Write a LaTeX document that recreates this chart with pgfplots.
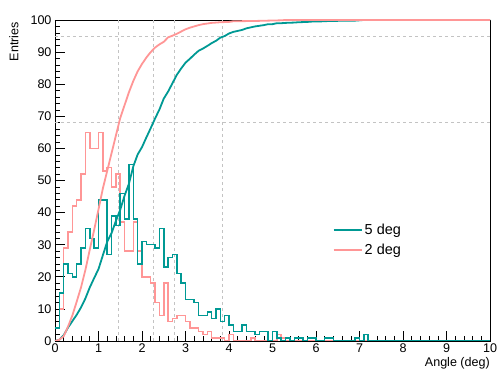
\documentclass[border=0pt]{standalone}
\usepackage{pgfplots}
\pgfplotsset{compat=1.18}
\usepackage{fontspec}
\setmainfont{Liberation Sans}
\definecolor{tealc}{RGB}{0,153,148}
\definecolor{pinkc}{RGB}{255,150,150}
\definecolor{gridc}{RGB}{195,195,195}

\pgfplotstableread{
x y
0.0 4
0.1 15
0.2 24
0.3 21
0.4 20
0.5 24
0.6 29
0.7 35
0.8 32
0.9 29
1.0 44
1.1 44
1.2 27
1.3 39
1.4 36
1.5 46
1.6 38
1.7 55
1.8 38
1.9 24
2.0 31
2.1 30
2.2 30
2.3 29
2.4 35
2.5 23
2.6 26
2.7 27
2.8 21
2.9 18
3.0 13
3.1 13
3.2 12
3.3 8
3.4 8
3.5 9
3.6 7
3.7 10
3.8 6
3.9 8
4.0 5
4.1 3
4.2 3
4.3 5
4.4 3
4.5 3
4.6 2
4.7 3
4.8 3
4.9 0
5.0 3
5.1 1
5.2 0
5.3 1
5.4 0
5.5 1
5.6 1
5.7 0
5.8 1
5.9 1
6.0 0
6.1 0
6.2 1
6.3 1
6.4 0
6.9 1
7.0 0
7.1 2
7.2 0
10.0 0
}\histfive

\pgfplotstableread{
x y
0.0 4
0.1 10
0.2 29
0.3 34
0.4 42
0.5 44
0.6 52
0.7 65
0.8 60
0.9 60
1.0 65
1.1 53
1.2 54
1.3 48
1.4 52
1.5 37
1.6 28
1.7 28
1.8 37
1.9 28
2.0 20
2.1 20
2.2 18
2.3 12
2.4 8
2.5 18
2.6 6
2.7 7
2.8 8
2.9 8
3.0 6
3.1 4
3.2 4
3.3 3
3.4 2
3.5 3
3.6 1
3.7 1
3.8 1
3.9 0
4.0 2
4.1 0
4.5 1
4.6 0
5.1 2
5.2 1
5.3 0
10.0 0
}\histtwo

\pgfplotstableread{
x y
0.0 0
0.1 0.4
0.2 1.8
0.3 4.2
0.4 6.2
0.5 8.2
0.6 10.5
0.7 13.3
0.8 16.7
0.9 19.6
1.0 22.4
1.1 26.7
1.2 30.9
1.3 33.6
1.4 37.4
1.5 40.9
1.6 45.3
1.7 49.0
1.8 54.4
1.9 58.1
2.0 60.4
2.1 63.4
2.2 66.3
2.3 69.3
2.4 72.1
2.5 75.5
2.6 77.7
2.7 80.3
2.8 82.9
2.9 84.9
3.0 86.7
3.1 87.9
3.2 89.2
3.3 90.4
3.4 91.1
3.5 91.9
3.6 92.8
3.7 93.5
3.8 94.5
3.9 95.0
4.0 95.8
4.1 96.3
4.2 96.6
4.3 96.9
4.4 97.4
4.5 97.7
4.6 98.0
4.7 98.2
4.8 98.4
4.9 98.7
5.0 98.7
5.1 99.0
5.2 99.0
5.3 99.1
5.5 99.2
5.6 99.3
5.8 99.4
5.9 99.5
6.2 99.6
6.3 99.7
6.9 99.8
7.1 100
10.0 100
}\cumfive

\pgfplotstableread{
x y
0.0 0
0.1 0.4
0.2 1.5
0.3 4.5
0.4 8.0
0.5 12.3
0.6 16.8
0.7 22.2
0.8 28.5
0.9 34.6
1.0 41.0
1.1 47.5
1.2 53.0
1.3 58.5
1.4 64.0
1.5 69.5
1.6 73.5
1.7 77.5
1.8 81.0
1.9 84.0
2.0 86.3
2.1 88.3
2.2 90.0
2.3 91.4
2.4 92.4
2.5 93.2
2.6 94.6
2.7 95.1
2.8 95.7
2.9 96.4
3.0 97.1
3.1 97.6
3.2 98.0
3.3 98.4
3.4 98.7
3.5 98.9
3.6 99.1
3.8 99.3
4.0 99.4
4.1 99.6
4.6 99.7
5.2 99.9
5.3 100
10.0 100
}\cumtwo

\begin{document}
\begin{tikzpicture}
\begin{axis}[name=ax, at={(0,0)}, anchor=south west,
  scale only axis, width=435bp, height=321bp,
  xmin=0, xmax=10, ymin=0, ymax=100,
  xtick={0,1,...,10}, ytick={0,10,...,100},
  minor x tick num=4, minor y tick num=4,
  tick align=inside, xtick pos=bottom, ytick pos=left,
  major tick length=10bp, minor tick length=5bp,
  tick style={black, line width=0.6bp},
  axis line style={line width=0.8bp},
  /pgf/number format/assume math mode=true,
  ticklabel style={font=\fontsize{12.6}{14}\selectfont},
  xticklabel style={yshift=1bp},
  yticklabel style={xshift=0bp},
  legend style={at={(axis cs:6.38,37)}, anchor=north west, draw=none, fill=none,
    font=\fontsize{14.5}{16}\selectfont, row sep=4bp, inner sep=0pt},
  legend cell align=left,
  legend image code/.code={\draw[#1, line width=2bp] (0bp,0bp) -- (28bp,0bp);},
]
\draw[gridc, dash pattern=on 3bp off 3bp, line width=0.7bp] (axis cs:0,68) -- (axis cs:10,68);
\draw[gridc, dash pattern=on 3bp off 3bp, line width=0.7bp] (axis cs:0,95) -- (axis cs:10,95);
\draw[gridc, dash pattern=on 3bp off 3bp, line width=0.7bp] (axis cs:1.45,0) -- (axis cs:1.45,100);
\draw[gridc, dash pattern=on 3bp off 3bp, line width=0.7bp] (axis cs:2.25,0) -- (axis cs:2.25,100);
\draw[gridc, dash pattern=on 3bp off 3bp, line width=0.7bp] (axis cs:2.75,0) -- (axis cs:2.75,100);
\draw[gridc, dash pattern=on 3bp off 3bp, line width=0.7bp] (axis cs:3.85,0) -- (axis cs:3.85,100);

\addplot[forget plot, const plot mark left, pinkc, line width=1.5bp] table {\histtwo};
\addplot[forget plot, const plot mark left, tealc, line width=1.5bp] table {\histfive};

\addplot[tealc, line width=1.8bp, line join=round] table {\cumfive};
\addlegendentry{5 deg}
\addplot[pinkc, line width=1.8bp, line join=round] table {\cumtwo};
\addlegendentry{2 deg}

\node[pinkc, anchor=south, font=\fontsize{12}{14}\selectfont, inner sep=0pt] at ([yshift=3bp]axis cs:1.45,100) {1.45};
\node[tealc, anchor=south, font=\fontsize{12}{14}\selectfont, inner sep=0pt] at ([yshift=3bp]axis cs:2.25,100) {2.25};
\node[pinkc, anchor=south, font=\fontsize{12}{14}\selectfont, inner sep=0pt] at ([yshift=3bp]axis cs:2.75,100) {2.75};
\node[tealc, anchor=south, font=\fontsize{12}{14}\selectfont, inner sep=0pt] at ([yshift=3bp]axis cs:3.85,100) {3.85};
\end{axis}
\node[rotate=90, anchor=north east, inner sep=0pt, font=\fontsize{12.6}{14}\selectfont] at ([xshift=-46bp,yshift=-2bp]ax.north west) {Entries};
\node[anchor=north east, inner sep=0pt, font=\fontsize{12.6}{14}\selectfont] at ([yshift=-16bp]ax.south east) {Angle (deg)};
\pgfresetboundingbox
\path[use as bounding box] (-55bp,-30bp) rectangle (442bp,341bp);
\end{tikzpicture}
\end{document}
